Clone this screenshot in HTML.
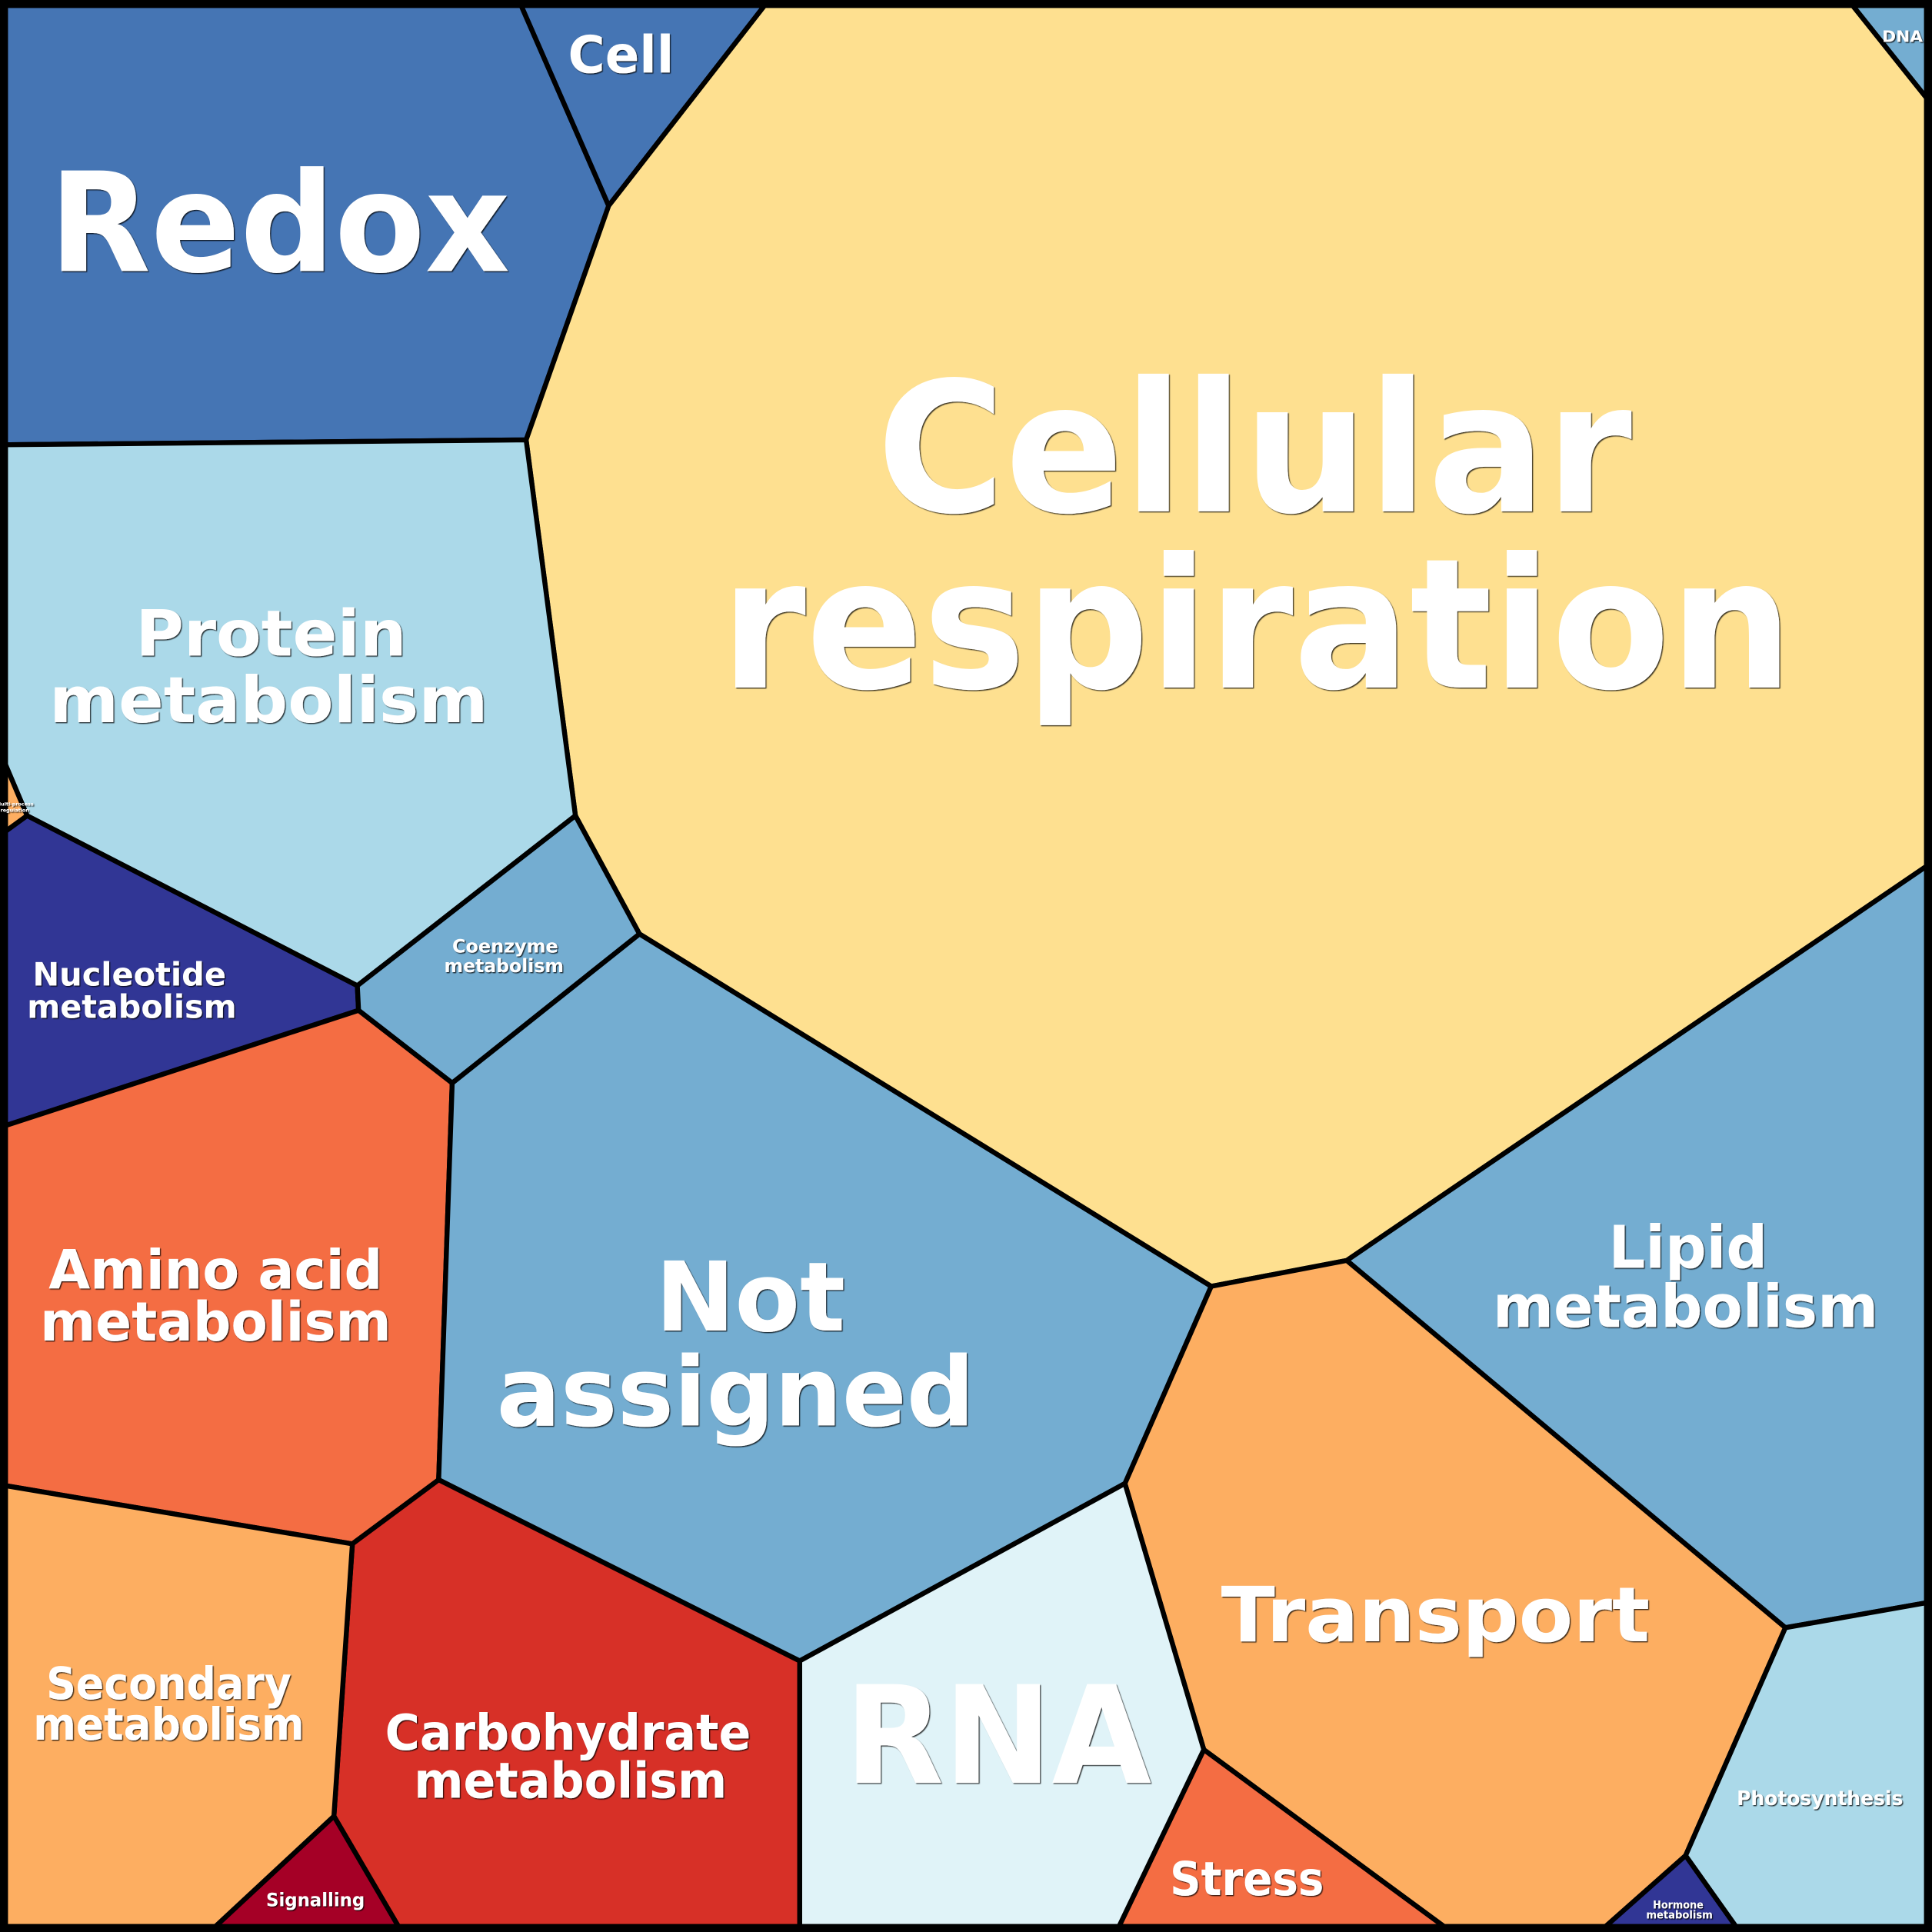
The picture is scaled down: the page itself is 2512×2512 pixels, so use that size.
<!DOCTYPE html>
<html><head><meta charset="utf-8"><style>
html,body{margin:0;padding:0;background:#fff}
svg{display:block}
text{font-family:"DejaVu Sans","Liberation Sans",sans-serif;font-weight:bold;fill:#fff;text-anchor:middle}
</style></head><body>
<svg width="2512" height="2512" viewBox="0 0 1568 1568" xmlns="http://www.w3.org/2000/svg">
<defs><filter id="sh" x="-5%" y="-5%" width="110%" height="110%"><feDropShadow dx="0.8" dy="0.8" stdDeviation="0.3" flood-color="#000" flood-opacity="0.8"/></filter></defs>
<g stroke="#000" stroke-width="4" stroke-linejoin="round">
<polygon fill="#4575b4" points="0,0 421,0 494,167 427,357 0,361"/>
<polygon fill="#4575b4" points="421,0 624,0 494,167"/>
<polygon fill="#fee090" points="624,0 1500,0 1568,85 1568,700 1093,1023 983,1044 519,758 467,662 427,357 494,167"/>
<polygon fill="#74add1" points="1500,0 1568,0 1568,85"/>
<polygon fill="#abd9e9" points="0,361 427,357 467,662 290,800 22,662 0,610"/>
<polygon fill="#fdae61" points="0,610 22,662 0,678"/>
<polygon fill="#313695" points="0,678 22,662 290,800 291,820 0,915"/>
<polygon fill="#74add1" points="290,800 467,662 519,758 367,879 291,820"/>
<polygon fill="#f46d43" points="0,915 291,820 367,879 356,1201 286,1253 0,1205"/>
<polygon fill="#74add1" points="367,879 519,758 983,1044 913,1204 649,1348 356,1201"/>
<polygon fill="#74add1" points="1093,1023 1568,700 1568,1300 1449,1321"/>
<polygon fill="#fdae61" points="983,1044 1093,1023 1449,1321 1368,1506 1298,1568 1178,1568 977,1420 913,1204"/>
<polygon fill="#abd9e9" points="1449,1321 1568,1300 1568,1568 1412,1568 1368,1506"/>
<polygon fill="#313695" points="1368,1506 1412,1568 1298,1568"/>
<polygon fill="#f46d43" points="977,1420 1178,1568 906,1568"/>
<polygon fill="#e0f3f8" points="649,1348 913,1204 977,1420 906,1568 649,1568"/>
<polygon fill="#d73027" points="356,1201 649,1348 649,1568 326,1568 271,1474 286,1253"/>
<polygon fill="#a50026" points="271,1474 326,1568 170,1568"/>
<polygon fill="#fdae61" points="0,1205 286,1253 271,1474 170,1568 0,1568"/>
</g>
<rect x="3" y="3" width="1562" height="1562" fill="none" stroke="#000" stroke-width="7"/>
<g filter="url(#sh)">
<text x="1018" y="415" font-size="147" textLength="613" lengthAdjust="spacingAndGlyphs">Cellular</text>
<text x="1020" y="558" font-size="147" textLength="870" lengthAdjust="spacingAndGlyphs">respiration</text>
<text x="227" y="220" font-size="112" textLength="374" lengthAdjust="spacingAndGlyphs">Redox</text>
<text x="504" y="59" font-size="42" textLength="86" lengthAdjust="spacingAndGlyphs">Cell</text>
<text x="1544" y="34" font-size="13" textLength="33" lengthAdjust="spacingAndGlyphs">DNA</text>
<text x="220" y="532" font-size="52" textLength="220" lengthAdjust="spacingAndGlyphs">Protein</text>
<text x="218" y="586" font-size="52" textLength="356" lengthAdjust="spacingAndGlyphs">metabolism</text>
<text x="105" y="800" font-size="26" textLength="157" lengthAdjust="spacingAndGlyphs">Nucleotide</text>
<text x="107" y="826" font-size="26" textLength="170" lengthAdjust="spacingAndGlyphs">metabolism</text>
<text x="410" y="773" font-size="15" textLength="86" lengthAdjust="spacingAndGlyphs">Coenzyme</text>
<text x="409" y="789" font-size="15" textLength="97" lengthAdjust="spacingAndGlyphs">metabolism</text>
<text x="175" y="1046" font-size="44" textLength="271" lengthAdjust="spacingAndGlyphs">Amino acid</text>
<text x="175" y="1088" font-size="44" textLength="285" lengthAdjust="spacingAndGlyphs">metabolism</text>
<text x="609" y="1080" font-size="78" textLength="154" lengthAdjust="spacingAndGlyphs">Not</text>
<text x="597" y="1157" font-size="78" textLength="388" lengthAdjust="spacingAndGlyphs">assigned</text>
<text x="1370" y="1029" font-size="48" textLength="129" lengthAdjust="spacingAndGlyphs">Lipid</text>
<text x="1368" y="1077" font-size="48" textLength="313" lengthAdjust="spacingAndGlyphs">metabolism</text>
<text x="1165" y="1332" font-size="62" textLength="348" lengthAdjust="spacingAndGlyphs">Transport</text>
<text x="810" y="1447" font-size="110" textLength="249" lengthAdjust="spacingAndGlyphs">RNA</text>
<text x="137" y="1379" font-size="36" textLength="199" lengthAdjust="spacingAndGlyphs">Secondary</text>
<text x="137" y="1412" font-size="36" textLength="220" lengthAdjust="spacingAndGlyphs">metabolism</text>
<text x="461" y="1420" font-size="40" textLength="297" lengthAdjust="spacingAndGlyphs">Carbohydrate</text>
<text x="463" y="1459" font-size="40" textLength="254" lengthAdjust="spacingAndGlyphs">metabolism</text>
<text x="1012" y="1538" font-size="38" textLength="125" lengthAdjust="spacingAndGlyphs">Stress</text>
<text x="256" y="1547" font-size="15" textLength="80" lengthAdjust="spacingAndGlyphs">Signalling</text>
<text x="1477" y="1465" font-size="16" textLength="135" lengthAdjust="spacingAndGlyphs">Photosynthesis</text>
<text x="1362" y="1549" font-size="9" textLength="41" lengthAdjust="spacingAndGlyphs">Hormone</text>
<text x="1363" y="1557" font-size="9" textLength="54" lengthAdjust="spacingAndGlyphs">metabolism</text>
<text x="12" y="654" font-size="4">Multi-process</text>
<text x="12" y="659" font-size="4">regulation</text>
</g>
</svg>
</body></html>
